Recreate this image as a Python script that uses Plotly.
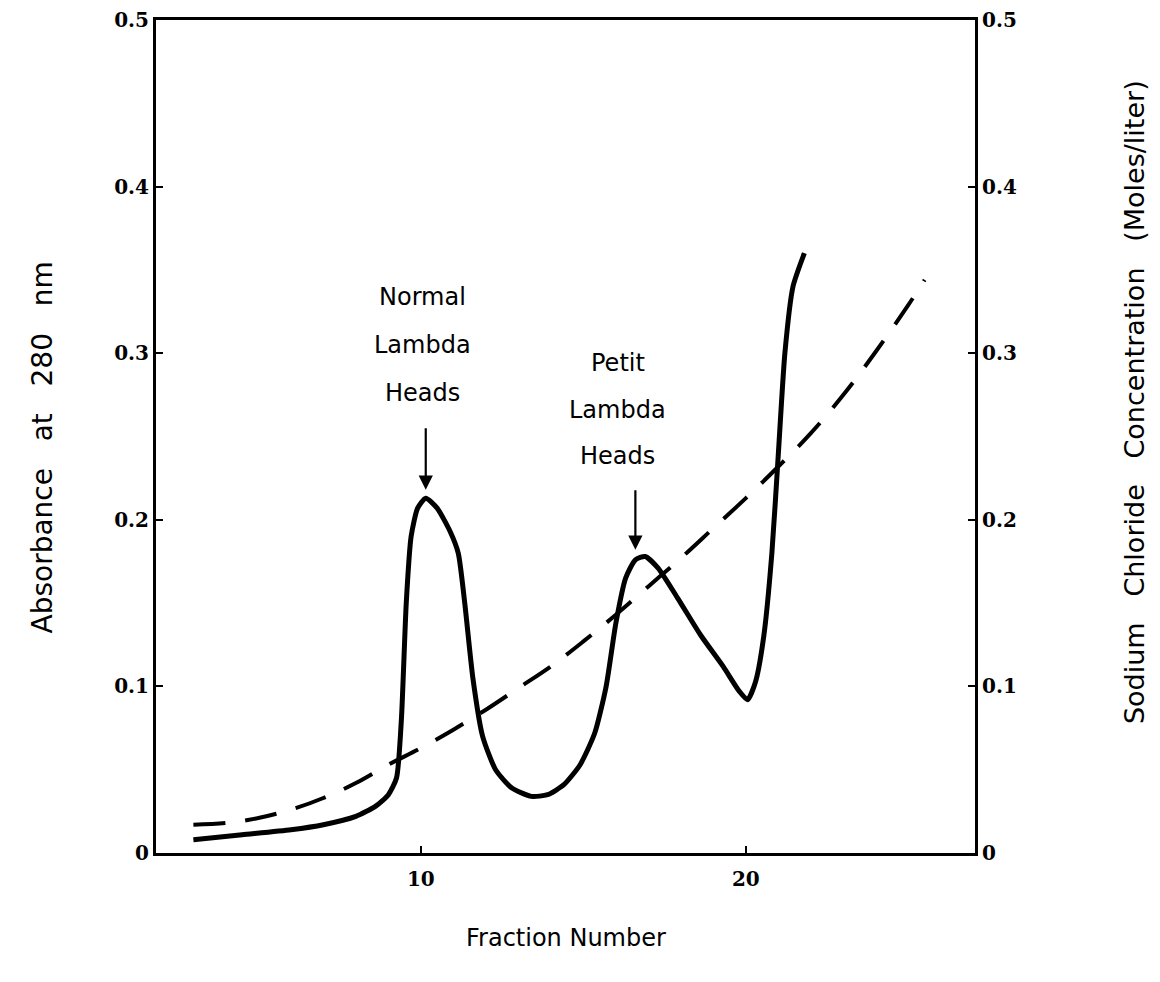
import plotly.graph_objects as go

# Absorbance at 280 nm (solid curve, left axis)
abs_fraction = [3.0, 4.5, 6.0, 7.0, 8.0, 8.6, 9.0, 9.25, 9.4, 9.55, 9.7, 9.9, 10.15, 10.5,
                10.9, 11.15, 11.35, 11.6, 11.9, 12.3, 12.8, 13.4, 13.9, 14.4, 14.9, 15.35,
                15.7, 16.0, 16.3, 16.6, 16.9, 17.3, 17.9, 18.6, 19.3, 19.8, 20.05, 20.3,
                20.55, 20.8, 21.0, 21.2, 21.45, 21.8]
absorbance = [0.008, 0.011, 0.014, 0.017, 0.022, 0.028, 0.035, 0.045, 0.08, 0.15, 0.19,
              0.207, 0.213, 0.207, 0.193, 0.18, 0.15, 0.105, 0.07, 0.05, 0.039, 0.034,
              0.035, 0.041, 0.053, 0.072, 0.1, 0.138, 0.165, 0.176, 0.178, 0.171, 0.153,
              0.131, 0.112, 0.097, 0.092, 0.103, 0.13, 0.18, 0.24, 0.3, 0.34, 0.36]

# Sodium chloride concentration (dashed curve, right axis)
nacl_fraction = [3.0, 4.0, 5.0, 6.0, 7.0, 8.0, 9.0, 10.0, 11.0, 12.0, 13.0, 14.0, 15.0,
                 16.0, 17.0, 18.0, 19.0, 20.0, 21.0, 22.0, 23.0, 24.0, 25.0, 25.5]
nacl = [0.017, 0.018, 0.021, 0.026, 0.033, 0.042, 0.053, 0.063, 0.074, 0.086, 0.099,
        0.112, 0.127, 0.143, 0.160, 0.177, 0.195, 0.213, 0.232, 0.252, 0.275, 0.301,
        0.329, 0.344]

x_ticks = [10, 20]
x_tick_labels = ["10", "20"]
y_ticks = [0, 0.1, 0.2, 0.3, 0.4, 0.5]
y_tick_labels = ["0", "0.1", "0.2", "0.3", "0.4", "0.5"]

# (lines, label x, label ys, arrow x, arrow tip y, arrow length px)
peak_labels = [
    (["Normal", "Lambda", "Heads"], 10.05, [0.334, 0.305, 0.276], 10.15, 0.218, -63),
    (["Petit", "Lambda", "Heads"], 16.05, [0.294, 0.266, 0.238], 16.6, 0.182, -61),
]

fig = go.Figure()
fig.add_trace(go.Scatter(x=abs_fraction, y=absorbance, mode="lines",
                         line=dict(color="black", width=5, shape="spline", smoothing=0.6),
                         showlegend=False))
fig.add_trace(go.Scatter(x=nacl_fraction, y=nacl, mode="lines", yaxis="y2",
                         line=dict(color="black", width=4, dash="32px,20px", shape="spline"),
                         showlegend=False))

label_font = dict(family="DejaVu Sans, sans-serif", size=24, color="black")
for lines, tx, tys, ax_x, ax_y, ay in peak_labels:
    for line, ty in zip(lines, tys):
        fig.add_annotation(x=tx, y=ty, text=line, showarrow=False, font=label_font,
                           xanchor="center", yanchor="middle")
    fig.add_annotation(x=ax_x, y=ax_y, text="", showarrow=True, ax=0, ay=ay,
                       arrowhead=2, arrowsize=1.3, arrowwidth=2.2, arrowcolor="black")

title_font = dict(family="DejaVu Sans, sans-serif", size=24, color="black")
left_font = dict(family="DejaVu Sans, sans-serif", size=28, color="black")
side_font = dict(family="DejaVu Sans, sans-serif", size=27, color="black")
gap = "\u00a0" * 3
fig.add_annotation(xref="paper", yref="paper", x=0.5, y=-0.102, yanchor="middle",
                   text="Fraction" + "\u00a0" + "Number", showarrow=False, font=title_font)
fig.add_annotation(xref="paper", yref="paper", x=-0.139, xanchor="center", y=0.487,
                   yanchor="middle",
                   text="Absorbance" + gap + "at" + gap + "280" + gap + "nm", textangle=-90,
                   showarrow=False, font=left_font)
fig.add_annotation(xref="paper", yref="paper", x=1.195, xanchor="center", y=0.541,
                   yanchor="middle",
                   text="Sodium" + gap + "Chloride" + gap + "Concentration" + gap + "(Moles/liter)",
                   textangle=-90, showarrow=False, font=side_font)

tick_font = dict(family="DejaVu Serif, serif", size=20, color="black", weight="bold")
axis_common = dict(ticks="inside", ticklen=7, tickwidth=2, tickcolor="black",
                   showline=True, linecolor="black", linewidth=3, automargin=False,
                   showgrid=False, zeroline=False, tickfont=tick_font)
fig.update_layout(
    width=1160, height=982,
    margin=dict(l=148, r=193, t=12, b=137, autoexpand=False),
    paper_bgcolor="white", plot_bgcolor="white",
    xaxis=dict(range=[1.85, 27.05], tickvals=x_ticks, ticktext=x_tick_labels,
               mirror=True, ticklabelstandoff=6, **axis_common),
    yaxis=dict(range=[0, 0.5], tickvals=y_ticks, ticktext=y_tick_labels, **axis_common),
    yaxis2=dict(range=[0, 0.5], tickvals=y_ticks, ticktext=y_tick_labels,
                overlaying="y", side="right", **axis_common),
)

fig.write_html("out.html")
